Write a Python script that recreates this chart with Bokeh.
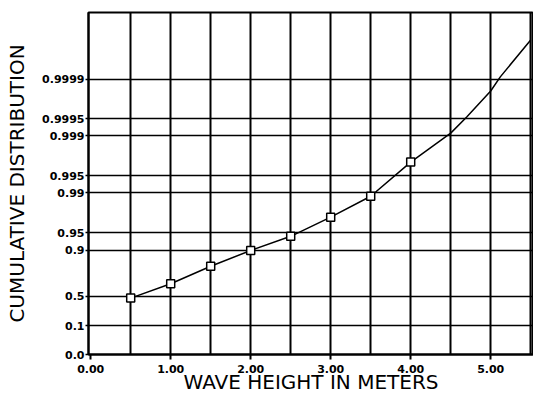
import numpy as np
from bokeh.plotting import figure
from bokeh.models import FixedTicker, Range1d
from bokeh.embed import file_html
from bokeh.resources import INLINE

# Observed points (wave height in m, cumulative probability)
wave_height = [0.5, 1.0, 1.5, 2.0, 2.5, 3.0, 3.5, 4.0]
cum_prob = [0.476, 0.662, 0.817, 0.899, 0.942, 0.973, 0.9884, 0.9971]

# Fitted curve continuing beyond the observations
fit_height = [4.0, 4.5, 4.7, 5.0, 5.12, 5.5]
fit_prob = [0.9971, 0.99911, 0.99954, 0.99984, 0.99991, 0.99998]

# Probability-paper gridlines and labels
prob_ticks = [0.1, 0.5, 0.9, 0.95, 0.99, 0.995, 0.999, 0.9995, 0.9999]
prob_labels = ["0.1", "0.5", "0.9", "0.95", "0.99", "0.995", "0.999", "0.9995", "0.9999"]
bottom_label = "0.0"

x_ticks = [0, 1, 2, 3, 4, 5]
x_labels = ["0.00", "1.00", "2.00", "3.00", "4.00", "5.00"]
x_grid = [0.5, 1.0, 1.5, 2.0, 2.5, 3.0, 3.5, 4.0, 4.5, 5.0, 5.5]


def reduced(p):
    """Gumbel reduced variate: the probability-paper axis coordinate."""
    return [round(float(v), 6) for v in -np.log(-np.log(np.asarray(p, dtype=float)))]


Y_MIN, Y_MAX = -2.0, 11.94

p = figure(width=533, height=398, output_backend="svg", toolbar_location=None,
           x_range=Range1d(-0.0275, 5.535), y_range=Range1d(Y_MIN, Y_MAX),
           min_border_left=88, min_border_right=0, min_border_top=12,
           min_border_bottom=44)
p.background_fill_color = "white"
p.border_fill_color = "white"
p.outline_line_color = "black"
p.outline_line_width = 2

# grids
p.xgrid.ticker = FixedTicker(ticks=x_grid)
p.xgrid.grid_line_color = "black"
p.xgrid.grid_line_width = 2
p.ygrid.ticker = FixedTicker(ticks=reduced(prob_ticks))
p.ygrid.grid_line_color = "black"
p.ygrid.grid_line_width = 1.5

font = "DejaVu Sans"

# x axis
xa = p.xaxis[0]
xa.ticker = FixedTicker(ticks=x_ticks)
xa.major_label_overrides = {t: l for t, l in zip(x_ticks, x_labels)}
xa.axis_label = "WAVE HEIGHT IN METERS"
xa.axis_label_text_font = font
xa.axis_label_text_font_style = "normal"
xa.axis_label_text_font_size = "20px"
xa.axis_label_text_color = "black"
xa.axis_label_standoff = -6
xa.major_label_text_font = font
xa.major_label_text_font_style = "bold"
xa.major_label_text_font_size = "11px"
xa.major_label_text_color = "black"
xa.major_label_standoff = 5
xa.major_tick_out = 5
xa.major_tick_in = 0
xa.minor_tick_out = 0
xa.minor_tick_in = 0
xa.axis_line_width = 2
xa.major_tick_line_width = 2

# y axis
ya = p.yaxis[0]
yt = [Y_MIN] + reduced(prob_ticks)
ya.ticker = FixedTicker(ticks=yt)
ya.major_label_overrides = {t: l for t, l in zip(yt, [bottom_label] + prob_labels)}
ya.axis_label = "CUMULATIVE DISTRIBUTION"
ya.axis_label_text_font = font
ya.axis_label_text_font_style = "normal"
ya.axis_label_text_font_size = "20px"
ya.axis_label_text_color = "black"
ya.axis_label_standoff = 10
ya.major_label_text_font = font
ya.major_label_text_font_style = "bold"
ya.major_label_text_font_size = "11px"
ya.major_label_text_color = "black"
ya.major_label_standoff = 1
ya.major_tick_out = 3
ya.major_tick_in = 0
ya.minor_tick_out = 0
ya.minor_tick_in = 0
ya.axis_line_width = 2
ya.major_tick_line_width = 1.5

# data
line_x = wave_height + fit_height[1:]
line_y = reduced(cum_prob + fit_prob[1:])
p.line(line_x, line_y, line_color="black", line_width=1.5)
p.scatter(wave_height, reduced(cum_prob), marker="square", size=8,
          fill_color="white", line_color="black", line_width=1.5)

open("out.html", "w").write(file_html(p, INLINE))
